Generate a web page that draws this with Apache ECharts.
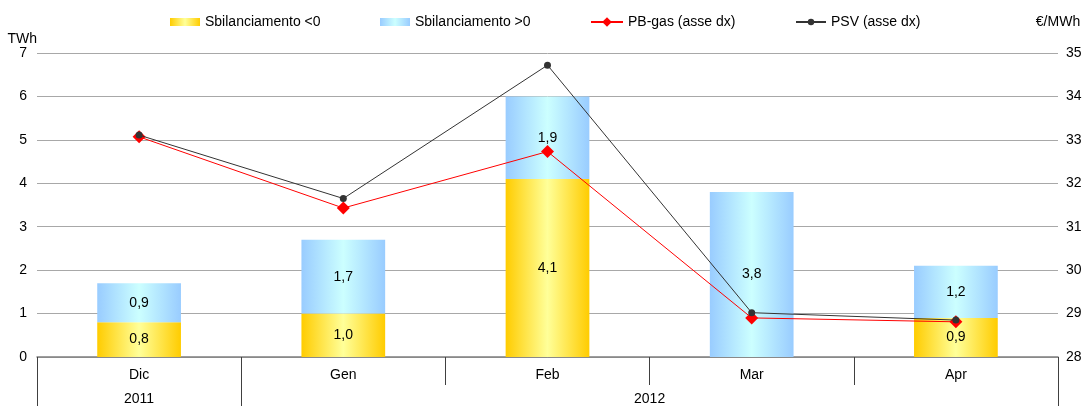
<!DOCTYPE html>
<html>
<head>
<meta charset="utf-8">
<script src="https://cdn.jsdelivr.net/npm/echarts@6/dist/echarts.min.js"></script>
<style>
  html, body { margin: 0; padding: 0; background: #fff; }
  #chart { width: 1086px; height: 406px; }
</style>
</head>
<body>
<div id="chart"></div>
<script>
// Monthly categories and year groups
const months = ['Dic', 'Gen', 'Feb', 'Mar', 'Apr'];
const years = ['2011', '2012'];
const yearSpans = [1, 4]; // number of months in each year group

// Imbalance volumes (TWh)
const sbilNeg = [0.8, 1.0, 4.1, 0, 0.9];
const sbilPos = [0.9, 1.7, 1.9, 3.8, 1.2];

// Prices (€/MWh, right axis)
const pbGas = [33.07, 31.43, 32.73, 28.9, 28.81];
const psv = [33.11, 31.65, 34.72, 29.02, 28.85];

const FONT = 'Liberation Sans, Arial, sans-serif';

const yellowFill = new echarts.graphic.LinearGradient(0, 0, 1, 0, [
  { offset: 0, color: '#FFCC00' },
  { offset: 0.5, color: '#FFFF99' },
  { offset: 1, color: '#FFCC00' }
]);
const blueFill = new echarts.graphic.LinearGradient(0, 0, 1, 0, [
  { offset: 0, color: '#99CCFF' },
  { offset: 0.5, color: '#CCFFFF' },
  { offset: 1, color: '#99CCFF' }
]);

const fmt = v => v ? v.toFixed(1).replace('.', ',') : '';

// Year group boundaries and centres in half-month units
const yearTicks = [0];
const yearCentres = [];
let acc = 0;
yearSpans.forEach(s => {
  yearCentres.push(acc * 2 + s);
  acc += s;
  yearTicks.push(acc * 2);
});

const chart = echarts.init(document.getElementById('chart'));

const legendBase = {
  top: 15,
  padding: 0,
  itemGap: 6,
  textStyle: { fontFamily: FONT, fontSize: 14, color: '#000', padding: [0, 0, 0, 0] }
};

chart.setOption({
  animation: false,
  textStyle: { fontFamily: FONT },
  legend: [
    Object.assign({}, legendBase, { left: 170, data: [{ name: 'Sbilanciamento <0', icon: 'rect' }], itemWidth: 30, itemHeight: 8 }),
    Object.assign({}, legendBase, { left: 380, data: [{ name: 'Sbilanciamento >0', icon: 'rect' }], itemWidth: 30, itemHeight: 8 }),
    Object.assign({}, legendBase, { left: 590, data: ['PB-gas (asse dx)'], itemWidth: 32, itemHeight: 12 }),
    Object.assign({}, legendBase, { left: 795, data: ['PSV (asse dx)'], itemWidth: 30, itemHeight: 8 })
  ],
  grid: { left: 37, right: 28, top: 53, bottom: 49, containLabel: false },
  xAxis: [
    {
      type: 'category',
      data: months,
      position: 'bottom',
      axisLine: { lineStyle: { color: '#7f7f7f', width: 1.5 } },
      axisTick: { show: true, length: 28, lineStyle: { color: '#404040', width: 1 } },
      axisLabel: { fontSize: 14, color: '#000', margin: 11, fontFamily: FONT },
      splitLine: { show: false }
    },
    {
      type: 'value',
      min: 0,
      max: months.length * 2,
      position: 'bottom',
      axisLine: { show: false },
      axisTick: { show: true, customValues: yearTicks, length: 52, lineStyle: { color: '#404040', width: 1 } },
      axisLabel: {
        customValues: yearCentres,
        fontSize: 14,
        color: '#000',
        margin: 35,
        fontFamily: FONT,
        formatter: v => years[yearCentres.indexOf(v)] || ''
      },
      splitLine: { show: false }
    }
  ],
  yAxis: [
    {
      type: 'value',
      min: 0,
      max: 7,
      interval: 1,
      name: 'TWh',
      nameLocation: 'end',
      nameGap: 4,
      nameTextStyle: { fontSize: 14, color: '#000', align: 'right', fontFamily: FONT },
      axisLine: { show: false },
      axisTick: { show: false },
      axisLabel: { fontSize: 14, color: '#000', margin: 10, fontFamily: FONT },
      splitLine: { show: true, lineStyle: { color: '#a8a8a8', width: 1 } }
    },
    {
      type: 'value',
      min: 28,
      max: 35,
      interval: 1,
      position: 'right',
      name: '€/MWh',
      nameLocation: 'end',
      nameGap: 24,
      nameTextStyle: { fontSize: 14, color: '#000', align: 'center', fontFamily: FONT },
      axisLine: { show: false },
      axisTick: { show: false },
      axisLabel: { fontSize: 14, color: '#000', margin: 8, fontFamily: FONT },
      splitLine: { show: false }
    }
  ],
  series: [
    {
      name: 'Sbilanciamento <0',
      type: 'bar',
      stack: 'sbil',
      barWidth: '41%',
      data: sbilNeg,
      itemStyle: { color: yellowFill },
      label: { show: true, position: 'inside', color: '#000', fontSize: 14, fontFamily: FONT, formatter: p => fmt(p.value) },
      z: 2
    },
    {
      name: 'Sbilanciamento >0',
      type: 'bar',
      stack: 'sbil',
      barWidth: '41%',
      data: sbilPos,
      itemStyle: { color: blueFill },
      label: { show: true, position: 'inside', color: '#000', fontSize: 14, fontFamily: FONT, formatter: p => fmt(p.value) },
      z: 2
    },
    {
      name: 'PB-gas (asse dx)',
      type: 'line',
      yAxisIndex: 1,
      data: pbGas,
      symbol: 'diamond',
      symbolSize: 13,
      itemStyle: { color: '#FF0000' },
      lineStyle: { color: '#FF0000', width: 1 },
      z: 4
    },
    {
      name: 'PSV (asse dx)',
      type: 'line',
      yAxisIndex: 1,
      data: psv,
      symbol: 'circle',
      symbolSize: 7,
      itemStyle: { color: '#333333' },
      lineStyle: { color: '#333333', width: 1 },
      z: 5
    }
  ]
});
</script>
</body>
</html>
